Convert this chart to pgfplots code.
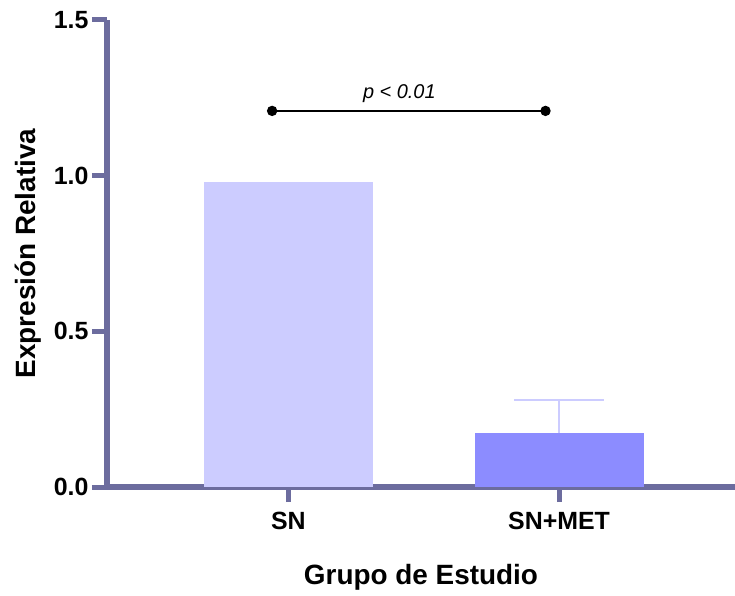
\documentclass[border=0pt]{standalone}
\usepackage{fontspec}
\setmainfont{Liberation Sans}
\usepackage{pgfplots}
\pgfplotsset{compat=1.18}

\definecolor{axiscol}{RGB}{108,108,158}
\definecolor{barsn}{RGB}{204,204,255}
\definecolor{barmet}{RGB}{140,140,255}

\begin{document}
\begin{tikzpicture}
\begin{axis}[
  scale only axis,
  width=628bp, height=467bp,
  xmin=-0.67, xmax=1.65,
  ymin=0, ymax=1.5,
  axis x line*=bottom,
  axis y line*=left,
  every outer x axis line/.append style={draw=axiscol, line width=5.5bp, -},
  every outer y axis line/.append style={draw=axiscol, line width=5.5bp, -},
  xtick={0,1},
  xticklabels={SN, SN+MET},
  ytick={0,0.5,1,1.5},
  yticklabel style={/pgf/number format/.cd, fixed, fixed zerofill, precision=1},
  /pgf/number format/assume math mode=true,
  tick align=outside,
  major tick length=15bp,
  every tick/.append style={draw=axiscol, line width=5bp},
  ticklabel style={font=\bfseries\fontsize{25}{25}\selectfont, text=black},
  xticklabel style={yshift=-7bp},
  xlabel={Grupo de Estudio},
  ylabel={Expresión Relativa},
  label style={font=\bfseries\fontsize{28}{28}\selectfont},
  xlabel style={at={(axis description cs:0.5,0)}, anchor=center, yshift=-90bp},
  ylabel style={at={(axis description cs:-0.126,0.5)}, anchor=center},
  clip=false,
]
  % SN bar
  \addplot[ybar, bar shift=0pt, bar width=169bp, fill=barsn, draw=none]
    coordinates {(0,0.98)};
  % SN+MET bar with upper error bar
  \addplot[ybar, bar shift=0pt, bar width=169bp, fill=barmet, draw=none,
    error bars/.cd, y dir=plus, y explicit,
    error bar style={draw=barsn, line width=2bp},
    error mark options={rotate=90, draw=barsn, line width=2bp, mark size=45bp}]
    coordinates {(1,0.173) +- (0,0.107)};
  % significance bracket
  \addplot[black, line width=1.3bp, mark=*, mark size=4.5bp]
    coordinates {(-0.06,1.208) (0.95,1.208)};
  \node[font=\itshape\fontsize{20}{20}\selectfont] at (axis cs:0.41,1.265) {p < 0.01};
\end{axis}
\pgfresetboundingbox
\path[use as bounding box] (-107bp,-109bp) rectangle (628bp,487bp);
\end{tikzpicture}
\end{document}
